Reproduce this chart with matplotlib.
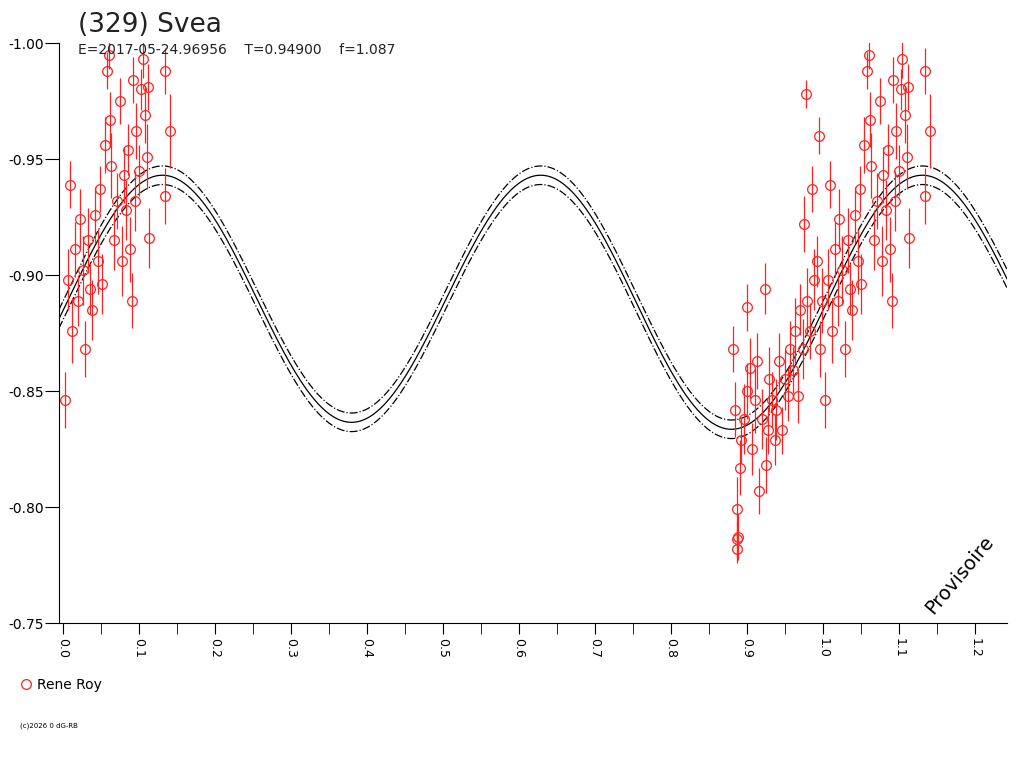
import matplotlib.pyplot as plt
import numpy as np

phase = [0.882, 0.884, 0.887, 0.887, 0.889, 0.887, 0.891, 0.893, 0.897, 0.901, 0.901, 0.904,
         0.907, 0.911, 0.913, 0.916, 0.920, 0.924, 0.925, 0.928, 0.930, 0.933, 0.937, 0.939,
         0.943, 0.947, 0.950, 0.954, 0.957, 0.961, 0.963, 0.967, 0.970, 0.974, 0.976, 0.978,
         0.980, 0.983, 0.986, 0.989, 0.992, 0.995, 0.996, 0.999,
         0.003, 0.007, 0.009, 0.012, 0.016, 0.020, 0.022, 0.026, 0.029, 0.033, 0.036, 0.039,
         0.042, 0.046, 0.049, 0.051, 0.055, 0.058, 0.061, 0.062, 0.064, 0.068, 0.071, 0.075,
         0.078, 0.080, 0.083, 0.086, 0.088, 0.091, 0.092, 0.095, 0.097, 0.100, 0.103, 0.105,
         0.108, 0.111, 0.112, 0.114, 0.141, 0.134, 0.134]
mag = [-0.868, -0.842, -0.786, -0.782, -0.787, -0.799, -0.817, -0.829, -0.838, -0.850, -0.886, -0.860,
       -0.825, -0.846, -0.863, -0.807, -0.838, -0.894, -0.818, -0.833, -0.855, -0.846, -0.829, -0.842,
       -0.863, -0.833, -0.855, -0.848, -0.868, -0.859, -0.876, -0.848, -0.885, -0.868, -0.922, -0.978,
       -0.889, -0.876, -0.937, -0.898, -0.906, -0.960, -0.868, -0.889,
       -0.846, -0.898, -0.939, -0.876, -0.911, -0.889, -0.924, -0.902, -0.868, -0.915, -0.894, -0.885,
       -0.926, -0.906, -0.937, -0.896, -0.956, -0.988, -0.995, -0.967, -0.947, -0.915, -0.932, -0.975,
       -0.906, -0.943, -0.928, -0.954, -0.911, -0.889, -0.984, -0.932, -0.962, -0.945, -0.980, -0.993,
       -0.969, -0.951, -0.981, -0.916, -0.962, -0.934, -0.988]
err = [0.010, 0.012, 0.008, 0.006, 0.010, 0.014, 0.012, 0.010, 0.015, 0.012, 0.010, 0.013,
       0.011, 0.014, 0.012, 0.010, 0.013, 0.011, 0.012, 0.010, 0.014, 0.012, 0.011, 0.013,
       0.012, 0.010, 0.013, 0.011, 0.012, 0.010, 0.014, 0.012, 0.011, 0.013, 0.012, 0.006,
       0.014, 0.012, 0.010, 0.013, 0.011, 0.008, 0.012, 0.014,
       0.012, 0.013, 0.010, 0.014, 0.012, 0.011, 0.013, 0.015, 0.012, 0.014, 0.011, 0.013,
       0.012, 0.014, 0.010, 0.013, 0.012, 0.008, 0.006, 0.012, 0.014, 0.013, 0.012, 0.010,
       0.015, 0.012, 0.013, 0.011, 0.014, 0.012, 0.010, 0.013, 0.012, 0.011, 0.009, 0.008,
       0.012, 0.014, 0.010, 0.013, 0.016, 0.012, 0.010]

# fitted Fourier model
mean_mag = -0.889
coef_h1 = (1, 0.0015, 0.88)   # (harmonic, amplitude, epoch)
coef_h2 = (2, -0.054, 0.13)
band = 0.004

phase = np.array(phase)
mag = np.array(mag)
err = np.array(err)
ph_all = np.concatenate([phase, phase[phase < 0.245] + 1.0])
mag_all = np.concatenate([mag, mag[phase < 0.245]])
err_all = np.concatenate([err, err[phase < 0.245]])

fig = plt.figure(figsize=(10.24, 7.68), dpi=100)
ax = fig.add_axes([0.0576, 0.1888, 0.9254, 0.7552])

x = np.linspace(-0.005, 1.245, 800)
model = (mean_mag + coef_h2[1] * np.cos(4 * np.pi * (x - coef_h2[2]))
         + coef_h1[1] * np.cos(2 * np.pi * (x - coef_h1[2])))
ax.plot(x, model, color="black", lw=0.9)
ax.plot(x, model - band, color="black", lw=0.9, ls="-.")
ax.plot(x, model + band, color="black", lw=0.9, ls="-.")

ax.errorbar(ph_all, mag_all, yerr=err_all, fmt="none", ecolor="#ff2020", elinewidth=0.9)
ax.plot(ph_all, mag_all, "o", mfc="none", mec="#ff2020", ms=7, mew=0.9, label="Rene Roy")

ax.set_xlim(-0.005, 1.242)
ax.set_ylim(-0.75, -1.00)
for s in ["top", "right"]:
    ax.spines[s].set_visible(False)
ax.set_xticks(np.arange(0, 1.25, 0.1))
ax.set_xticks(np.arange(0.05, 1.25, 0.1), minor=True)
ax.set_xticklabels([f"{v:.1f}" for v in np.arange(0, 1.25, 0.1)], rotation=270, fontsize=9)
ax.tick_params(axis="x", which="both", length=8, direction="out", pad=3)
ax.set_yticks([-1.00, -0.95, -0.90, -0.85, -0.80, -0.75])
ax.set_yticklabels(["-1.00", "-0.95", "-0.90", "-0.85", "-0.80", "-0.75"], fontsize=10)
ax.tick_params(axis="y", length=10, direction="out", pad=1)

fig.text(0.076, 0.958, "(329) Svea", fontsize=19, color="#222222")
fig.text(0.076, 0.93, "E=2017-05-24.96956    T=0.94900    f=1.087", fontsize=10, color="#222222")
ax.text(0.95, 0.01, "Provisoire", transform=ax.transAxes, rotation=50, fontsize=14,
        ha="center", va="bottom")
fig.legend(loc="upper left", bbox_to_anchor=(0.005, 0.133), frameon=False, fontsize=10,
           handletextpad=0.2, handlelength=1.2)
fig.text(0.02, 0.053, "(c)2026 0 dG-RB", fontsize=5)

fig.savefig("out.png")
